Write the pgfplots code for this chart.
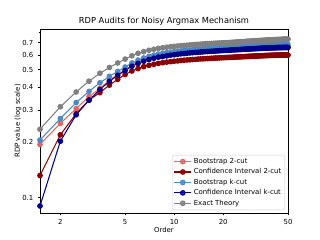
\documentclass[border=0pt]{standalone}
\usepackage{pgfplots}
\pgfplotsset{compat=1.18}
\usepackage{pgfplotstable}
\usepackage{fontspec}
\setmainfont{DejaVu Sans}
\definecolor{cpink}{HTML}{E06666}
\definecolor{cred}{HTML}{8B0000}
\definecolor{clb}{HTML}{4A89C4}
\definecolor{cdb}{HTML}{00008B}
\definecolor{cgray}{HTML}{808080}
\pgfplotstableread{
a pink red lb db gray
1.5 .195 .132 .206 .090 .236
2 .254 .220 .270 .203 .313
2.5 .306 .287 .330 .283 .377
3 .356 .341 .380 .340 .432
3.5 .394 .374 .423 .389 .477
4 .436 .411 .459 .431 .513
4.5 .470 .442 .488 .465 .543
5 .499 .470 .516 .494 .570
5.5 .526 .491 .543 .521 .594
6 .545 .506 .563 .540 .613
6.5 .560 .518 .578 .555 .626
7 .572 .527 .590 .567 .637
7.5 .581 .534 .599 .576 .645
8 .589 .540 .607 .584 .652
8.5 .594 .545 .613 .589 .657
9 .599 .549 .618 .594 .662
9.5 .604 .552 .622 .599 .666
10 .607 .555 .626 .602 .669
10.5 .611 .557 .629 .606 .672
11 .614 .560 .632 .609 .675
11.5 .616 .562 .635 .611 .677
12 .619 .564 .637 .614 .679
12.5 .621 .565 .639 .616 .681
13 .623 .567 .641 .618 .683
13.5 .625 .568 .643 .620 .685
14 .626 .570 .645 .621 .686
14.5 .628 .571 .646 .623 .688
15 .629 .572 .648 .624 .689
15.5 .631 .573 .649 .626 .691
16 .632 .574 .651 .627 .692
16.5 .633 .575 .652 .628 .693
17 .634 .576 .653 .629 .694
17.5 .635 .577 .654 .630 .695
18 .636 .578 .655 .631 .696
18.5 .637 .578 .656 .632 .697
19 .638 .579 .657 .633 .697
19.5 .639 .580 .658 .634 .698
20 .640 .580 .658 .635 .699
20.5 .641 .581 .659 .636 .700
21 .641 .582 .660 .636 .700
21.5 .642 .582 .661 .637 .701
22 .643 .583 .662 .638 .702
22.5 .644 .583 .663 .639 .703
23 .645 .584 .663 .640 .704
23.5 .645 .585 .664 .640 .705
24 .646 .585 .665 .641 .706
24.5 .647 .586 .666 .642 .707
25 .647 .586 .666 .642 .708
25.5 .648 .587 .667 .643 .709
26 .649 .587 .668 .644 .709
26.5 .650 .588 .668 .645 .710
27 .650 .588 .669 .645 .710
27.5 .651 .589 .670 .646 .712
28 .651 .589 .670 .646 .713
28.5 .652 .590 .671 .647 .713
29 .653 .590 .671 .648 .714
29.5 .653 .591 .672 .648 .714
30 .654 .591 .673 .649 .715
30.5 .654 .592 .673 .649 .716
31 .655 .592 .674 .650 .717
31.5 .655 .592 .674 .650 .717
32 .656 .593 .675 .651 .718
32.5 .656 .593 .675 .651 .718
33 .657 .594 .676 .652 .719
33.5 .657 .594 .676 .652 .720
34 .658 .594 .677 .653 .720
34.5 .658 .595 .677 .653 .721
35 .659 .595 .678 .654 .721
35.5 .659 .595 .678 .654 .722
36 .660 .596 .678 .655 .722
36.5 .660 .596 .679 .655 .723
37 .660 .596 .679 .655 .724
37.5 .661 .597 .680 .656 .724
38 .661 .597 .680 .656 .724
38.5 .661 .597 .680 .656 .725
39 .662 .597 .681 .657 .725
39.5 .662 .598 .681 .657 .726
40 .662 .598 .681 .657 .726
40.5 .662 .598 .681 .657 .727
41 .663 .598 .682 .658 .727
41.5 .663 .598 .682 .658 .727
42 .663 .599 .682 .658 .727
42.5 .663 .599 .682 .658 .729
43 .664 .599 .683 .659 .729
43.5 .664 .599 .683 .659 .729
44 .664 .599 .683 .659 .729
44.5 .664 .599 .683 .659 .729
45 .664 .599 .683 .659 .729
45.5 .664 .600 .683 .659 .730
46 .665 .600 .684 .660 .731
46.5 .665 .600 .684 .660 .731
47 .665 .600 .684 .660 .731
47.5 .665 .600 .684 .660 .731
48 .665 .600 .684 .660 .732
48.5 .665 .600 .684 .660 .732
49 .665 .600 .684 .660 .732
49.5 .665 .600 .684 .660 .732
50 .665 .600 .684 .660 .732
}\data
\begin{document}
\begin{tikzpicture}
\path[use as bounding box] (-40bp,-27bp) rectangle (280bp,213bp);
\begin{axis}[
  at={(0,0)}, anchor=south west, scale only axis,
  width=248bp, height=184bp,
  xmode=log, ymode=log,
  xmin=1.5, xmax=50, ymin=0.0824, ymax=0.832,
  xtick={2,5,10,20,50}, xticklabels={2,5,10,20,50},
  minor xtick={3,4,6,7,8,9,30,40},
  ytick={0.1,0.2,0.3,0.4,0.5,0.6,0.7},
  yticklabels={0.1,0.2,0.3,0.4,0.5,0.6,0.7},
  minor ytick={0.09,0.8},
  /pgf/number format/assume math mode=true,
  tick align=outside, tick pos=left,
  major tick length=2.4bp, minor tick length=1.4bp,
  every tick/.style={black, line width=0.55bp},
  axis line style={black, line width=0.55bp},
  font=\fontsize{6.94}{8}\selectfont,
  xticklabel style={yshift=-0.5bp},
  yticklabel style={xshift=-0.8bp},
  title={RDP Audits for Noisy Argmax Mechanism},
  title style={font=\fontsize{8.33}{10}\selectfont, at={(0.5,1)}, anchor=south, yshift=-6bp},
  xlabel={Order},
  ylabel={RDP value (log scale)},
  xlabel style={at={(axis description cs:0.5,-0.093)}, anchor=center},
  ylabel style={at={(axis description cs:-0.089,0.5)}, anchor=center},
  legend cell align=left,
  legend style={at={(0.988,0.016)}, anchor=south east,
    font=\fontsize{6.94}{8}\selectfont,
    draw=black!20, fill=white, fill opacity=0.8, text opacity=1,
    rounded corners=1.5bp, row sep=-0.3bp, inner xsep=1.5bp, inner ysep=1.2bp},
  every axis plot/.append style={line width=1.05bp, mark=*, mark size=2.3bp},
]
\addplot[color=cpink, mark options={fill=cpink}] table[x=a, y=pink] {\data};
\addlegendentry{Bootstrap 2-cut}
\addplot[color=cred, mark options={fill=cred}] table[x=a, y=red] {\data};
\addlegendentry{Confidence Interval 2-cut}
\addplot[color=clb, mark options={fill=clb}] table[x=a, y=lb] {\data};
\addlegendentry{Bootstrap k-cut}
\addplot[color=cdb, mark options={fill=cdb}] table[x=a, y=db] {\data};
\addlegendentry{Confidence Interval k-cut}
\addplot[color=cgray, mark options={fill=cgray}] table[x=a, y=gray] {\data};
\addlegendentry{Exact Theory}
\end{axis}
\end{tikzpicture}
\end{document}
